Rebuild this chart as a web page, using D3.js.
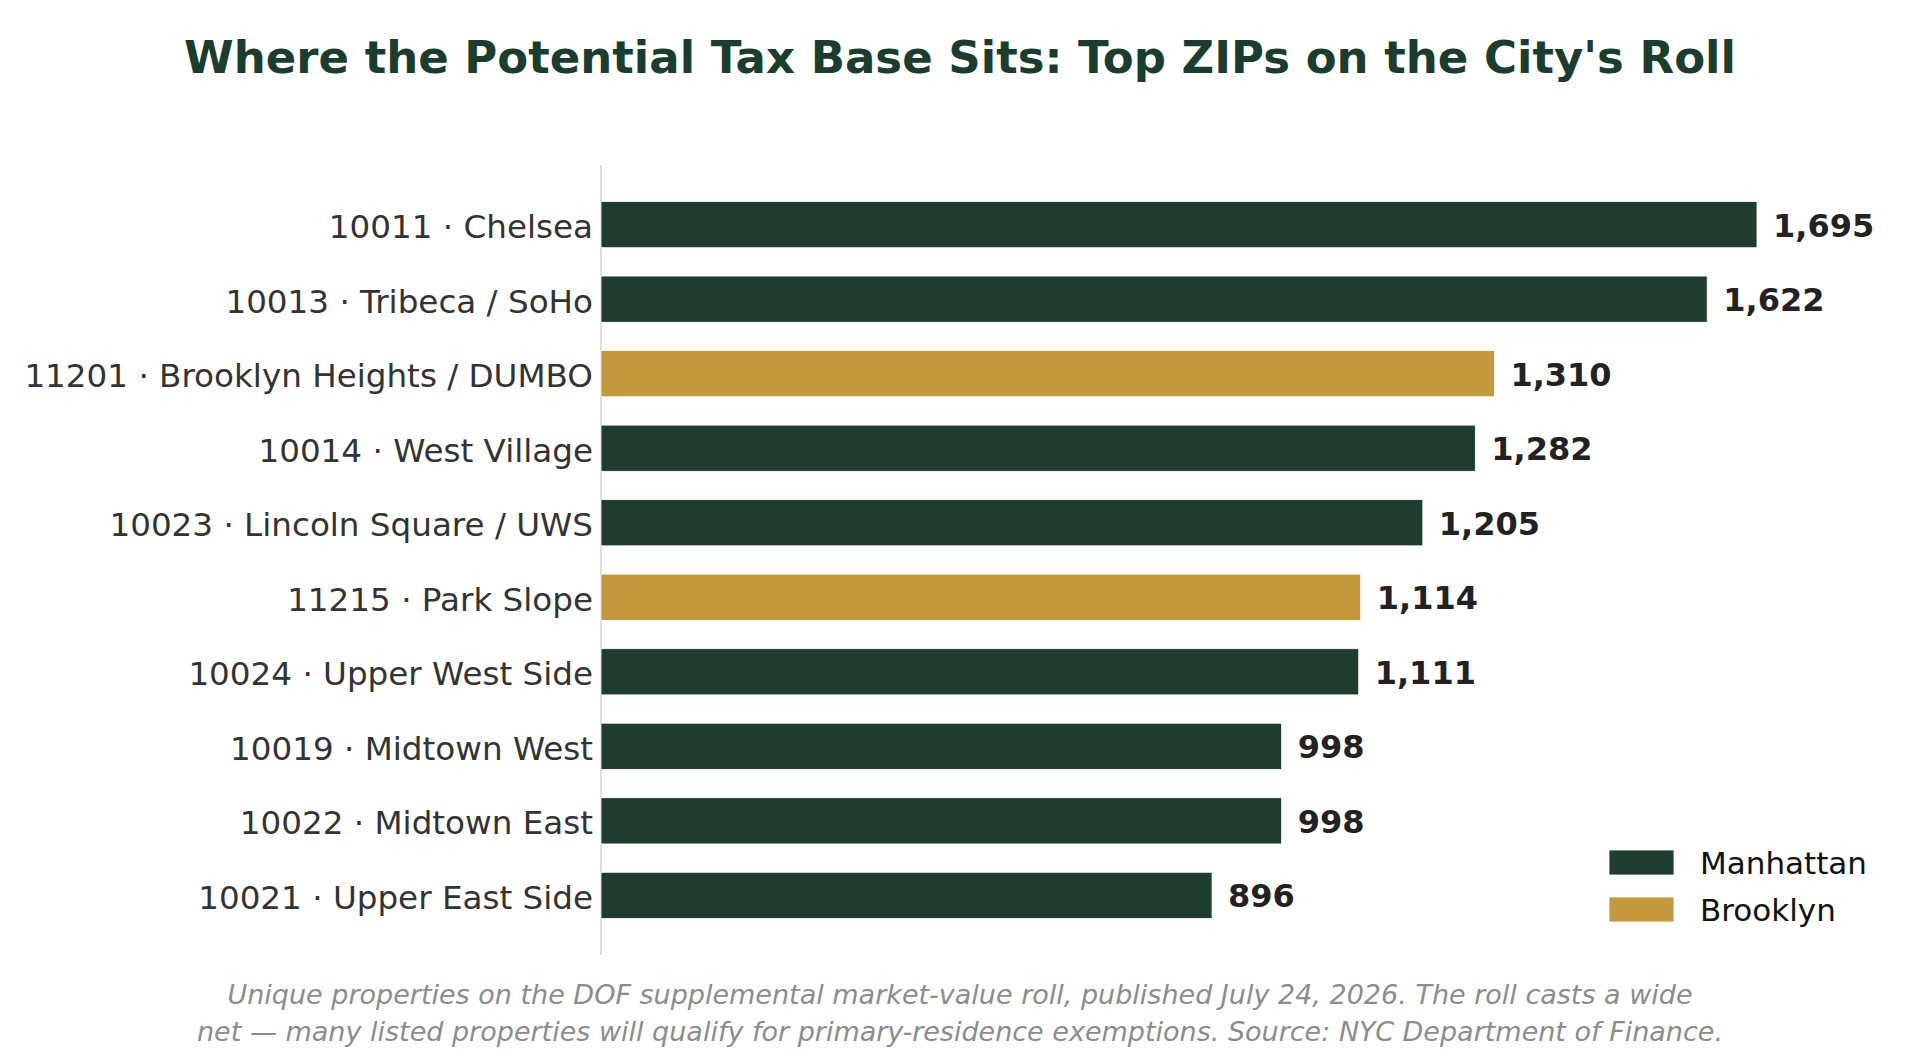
<!DOCTYPE html>
<html><head><meta charset="utf-8">
<script src="https://cdn.jsdelivr.net/npm/d3@7"></script>
<style>html,body{margin:0;padding:0;background:#fff;}svg{display:block;}</style>
</head><body>
<svg id="chart" width="1920" height="1058"></svg>
<script>
const categories = [
  "10011 · Chelsea",
  "10013 · Tribeca / SoHo",
  "11201 · Brooklyn Heights / DUMBO",
  "10014 · West Village",
  "10023 · Lincoln Square / UWS",
  "11215 · Park Slope",
  "10024 · Upper West Side",
  "10019 · Midtown West",
  "10022 · Midtown East",
  "10021 · Upper East Side"
];
const values = [1695, 1622, 1310, 1282, 1205, 1114, 1111, 998, 998, 896];
const boroughs = ["Manhattan","Manhattan","Brooklyn","Manhattan","Manhattan","Brooklyn","Manhattan","Manhattan","Manhattan","Manhattan"];
const legendLabels = ["Manhattan","Brooklyn"];
const titleText = "Where the Potential Tax Base Sits: Top ZIPs on the City's Roll";
const footLines = [
  "Unique properties on the DOF supplemental market-value roll, published July 24, 2026. The roll casts a wide",
  "net — many listed properties will qualify for primary-residence exemptions. Source: NYC Department of Finance."
];

const colors = {Manhattan:"#1e3d2f", Brooklyn:"#c4983c"};
const font = "'DejaVu Sans', sans-serif";
const svg = d3.select("#chart");

const x = d3.scaleLinear().domain([0, 1900]).range([601, 601 + 1900 * 0.682]);
const y = d3.scaleLinear().domain([-0.8, 9.8]).range([165, 955]);
const barH = y(0.31) - y(0);

svg.append("text").attr("x", 960).attr("y", 57).attr("text-anchor","middle")
  .attr("dominant-baseline","central")
  .style("font-family", font).style("font-weight","bold").style("font-size","45px")
  .attr("fill","#1b3d2e").text(titleText);

// left spine
svg.append("line").attr("x1",601).attr("x2",601).attr("y1",y(-0.8)).attr("y2",y(9.8))
  .attr("stroke","#cccccc").attr("stroke-width",1.3);

const g = svg.append("g");
g.selectAll("rect").data(values).join("rect")
  .attr("x", x(0))
  .attr("y", (d,i) => y(i) - barH)
  .attr("width", d => x(d) - x(0))
  .attr("height", barH*2)
  .attr("fill", (d,i) => colors[boroughs[i]])
  .attr("stroke","#ffffff").attr("stroke-width",0.8);

g.selectAll("text.val").data(values).join("text").attr("class","val")
  .attr("x", d => x(d) + 16)
  .attr("y", (d,i) => y(i) + 1)
  .attr("dominant-baseline","central")
  .style("font-family", font).style("font-weight","bold").style("font-size","32px")
  .attr("fill","#222222").text(d => d3.format(",")(d));

g.selectAll("text.cat").data(categories).join("text").attr("class","cat")
  .attr("x", 593)
  .attr("y", (d,i) => y(i) + 2.5)
  .attr("text-anchor","end").attr("dominant-baseline","central")
  .style("font-family", font).style("font-size","32.6px")
  .attr("fill","#333333").text(d => d);

// legend
const lg = svg.append("g");
legendLabels.forEach((lab, i) => {
  const yy = 850 + i * 47;
  lg.append("rect").attr("x",1609).attr("y",yy).attr("width",65).attr("height",25)
    .attr("fill", colors[lab]).attr("stroke","#ffffff").attr("stroke-width",0.8);
  lg.append("text").attr("x",1700).attr("y",yy+12.5).attr("dominant-baseline","central")
    .style("font-family", font).style("font-size","31px").attr("fill","#111111").text(lab);
});

// footnote
footLines.forEach((t, i) => {
  svg.append("text").attr("x",960).attr("y", 994 + i*37).attr("text-anchor","middle")
    .attr("dominant-baseline","central")
    .style("font-family", font).style("font-style","italic").style("font-size","27px")
    .attr("fill","#8c8c8c").text(t);
});
</script>
</body></html>
